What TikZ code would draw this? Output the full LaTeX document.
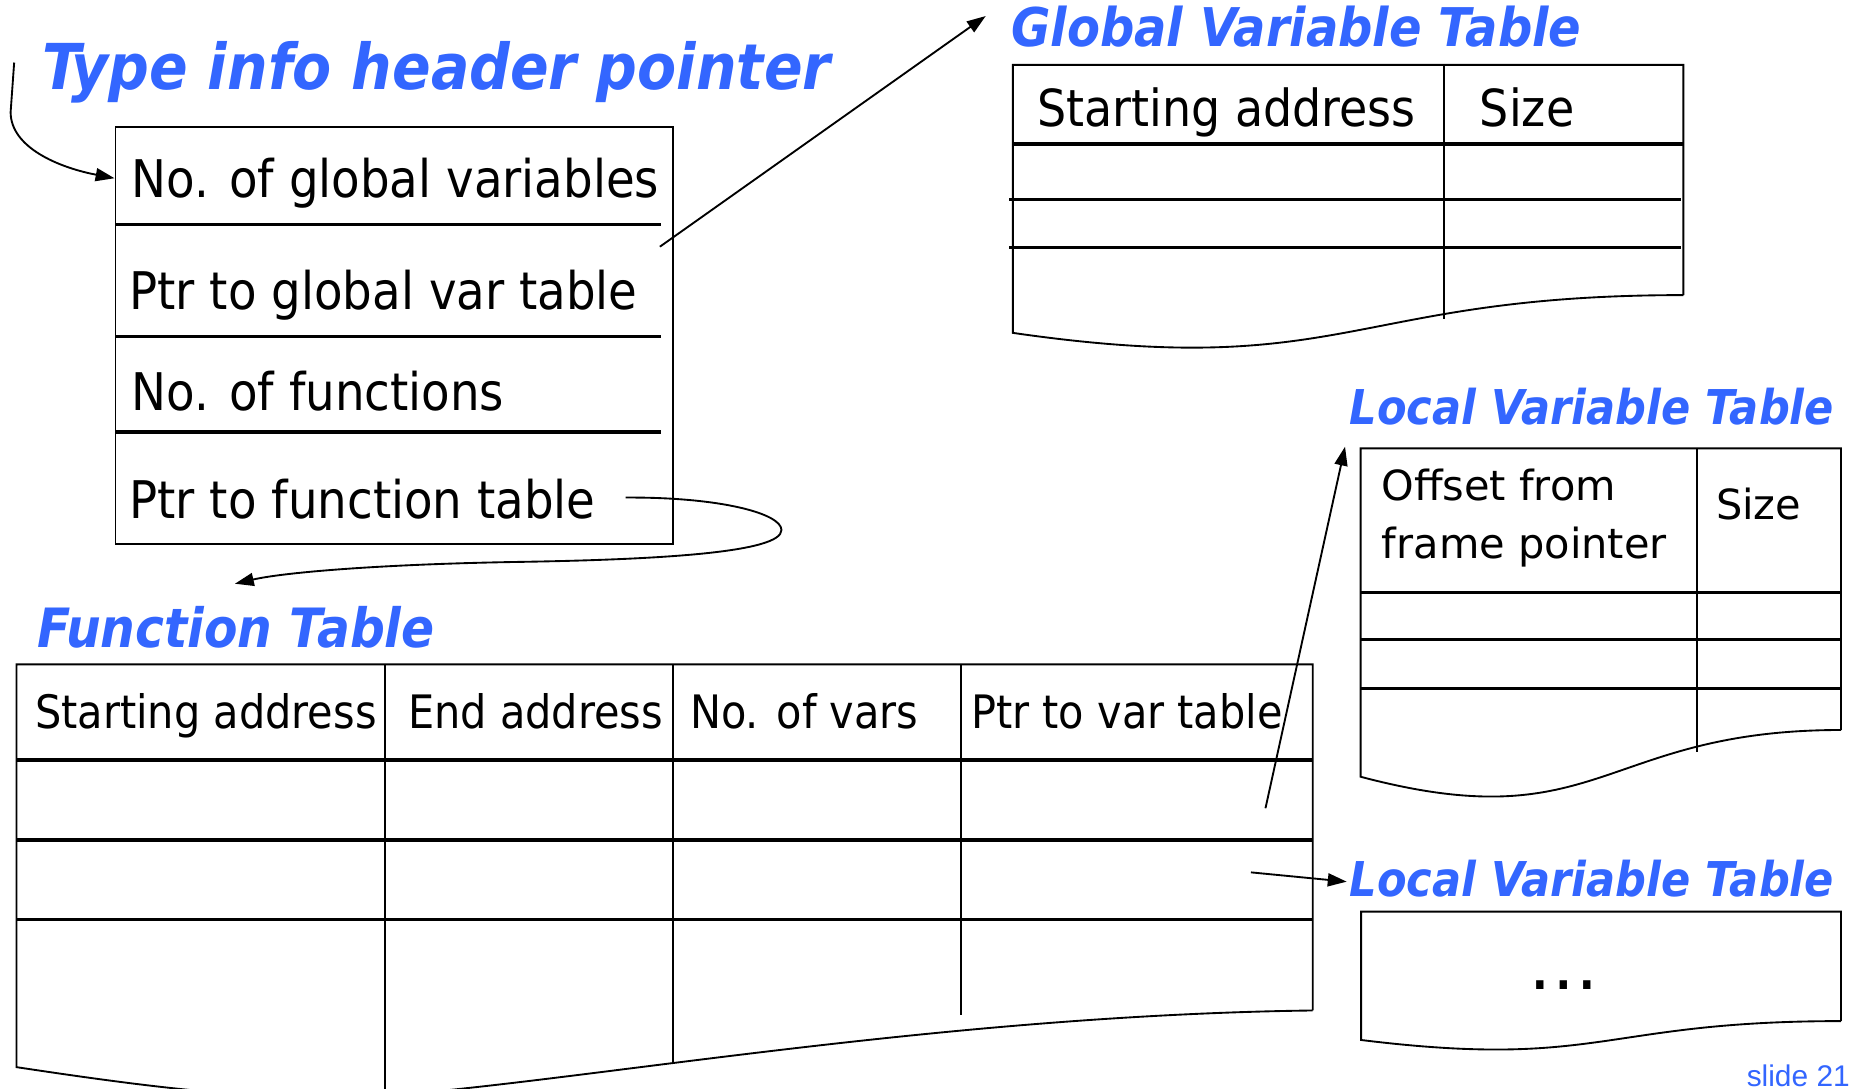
\documentclass[tikz,border=0pt]{standalone}
\usepackage{fontspec}
\usetikzlibrary{arrows.meta}
\setmainfont{DejaVu Sans}
\newfontfamily\tahomalike[FakeStretch=0.9]{DejaVu Sans}
\newfontfamily\verdanalike{DejaVu Sans}
\newfontfamily\titlefont[FakeStretch=0.9]{DejaVu Sans}
\newfontfamily\slidefont{Liberation Sans}
\definecolor{ttlblue}{RGB}{51,102,255}
\newcommand\setsz[1]{\fontsize{#1}{#1}\selectfont}
\tikzset{
  thinln/.style={line width=0.45pt},
  thickln/.style={line width=0.75pt},
  ptr/.style={line width=0.45pt, -{Triangle[length=0.16cm,width=0.11cm]}},
  headline/.style={anchor=base west, inner sep=0pt, text=ttlblue,
    font=\titlefont\bfseries\itshape\setsz{#1}},
  celltext/.style={anchor=base west, inner sep=0pt, font=\tahomalike\setsz{#1}},
  lvtext/.style={anchor=base west, inner sep=0pt, font=\verdanalike\setsz{10pt}},
}
\begin{document}
\begin{tikzpicture}[x=0.01cm, y=-0.01cm]
\useasboundingbox (0,0) rectangle (1568,922);

% ---------- type info header ----------
\node[headline=15.25pt] (tihdr) at (35,75.8) {Type info header pointer};
\node[draw, thinln, minimum width=4.72cm, minimum height=3.53cm, inner sep=0pt]
  (hdr) at (334,284.5) {};
\draw[thickln] (98,190) -- (560,190);
\draw[thickln] (98,285) -- (560,285);
\draw[thickln] (98,366) -- (560,366);
\node[celltext=12.5pt] (ngv) at (111,167.6) {No. of global variables};
\node[celltext=12.5pt] (pgv) at (109,262.6) {Ptr to global var table};
\node[celltext=12.5pt] (nfn) at (111,347.5) {No. of functions};
\node[celltext=12.5pt] (pft) at (109,439.3) {Ptr to function table};

% ---------- global variable table ----------
\node[headline=12.85pt] (gvttl) at (856,39) {Global Variable Table};
\draw[thinln] (1426,250) -- (1426,55) -- (858,55) -- (858,282)
  .. controls (1142,323) and (1142,250) .. (1426,250);
\draw[thickln] (858,122) -- (1426,122);
\draw[thickln] (855,169) -- (1424,169);
\draw[thickln] (855,210) -- (1424,210);
\draw[thinln] (1223,55) -- (1223,270);
\node[celltext=12.3pt] (gsa) at (878,107) {Starting address};
\node[celltext=12.3pt] (gsz) at (1253,107) {Size};

% ---------- local variable table (detailed) ----------
\node[headline=11.55pt] (lvttl1) at (1142.5,360) {Local Variable Table};
\draw[thinln] (1559.5,618.4) -- (1559.5,379.8) -- (1152.6,379.8) -- (1152.6,658)
  .. controls (1356,712) and (1356,618.4) .. (1559.5,618.4);
\draw[thinln] (1437.3,379.8) -- (1437.3,636.7);
\draw[thickln] (1152.6,501.8) -- (1559.5,501.8);
\draw[thickln] (1152.6,542) -- (1559.5,542);
\draw[thickln] (1152.6,583) -- (1559.5,583);
\node[lvtext] (lofs1) at (1169.5,424) {Offset from};
\node[lvtext] (lofs2) at (1170,473) {frame pointer};
\node[lvtext] (lsz) at (1453,440.5) {Size};

% ---------- local variable table (collapsed) ----------
\node[headline=11.55pt] (lvttl2) at (1142.5,759.6) {Local Variable Table};
\draw[thinln] (1559.5,865) -- (1559.5,772.3) -- (1153,772.3) -- (1153,881)
  .. controls (1356,906) and (1356,865) .. (1559.5,865);
\node[anchor=base, inner sep=0pt, font=\verdanalike\setsz{17pt}] (ldots) at (1324.5,838) {…};

% ---------- function table ----------
\node[headline=13.05pt] (fnttl) at (31,548.6) {Function Table};
\draw[thinln] (1112,856) -- (1112,562.8) -- (14,562.8) -- (14,904)
  .. controls (120,920) and (230,935) .. (330,928)
  .. controls (500,915) and (800,860) .. (1112,856);
\draw[thickln] (14,643.8) -- (1112,643.8);
\draw[thickln] (14,711.6) -- (1112,711.6);
\draw[thickln] (14,779.3) -- (1112,779.3);
\draw[thinln] (326,562.8) -- (326,930);
\draw[thinln] (570,562.8) -- (570,900.7);
\draw[thinln] (814,562.8) -- (814,860);
\node[celltext=11.1pt] (fsa) at (29,617) {Starting address};
\node[celltext=11.1pt] (fea) at (345,617) {End address};
\node[celltext=11.1pt] (fnv) at (584,617) {No. of vars};
\node[celltext=11.1pt] (fpv) at (822,617) {Ptr to var table};

% ---------- pointers ----------
\coordinate (tip-src) at (12,53);
\coordinate (tip-bend) at (9,95);
\coordinate (hdr-in) at (97,151);
\draw[ptr] (tip-src) -- (tip-bend) .. controls (9,125) and (50,142) .. (hdr-in);

\coordinate (gv-src) at (559,209);
\coordinate (gv-dst) at (835,13.6);
\draw[ptr] (gv-src) -- (gv-dst);

\coordinate (ft-src) at (530,421.5);
\coordinate (ft-turn) at (662,449);
\coordinate (ft-dst) at (199,494.5);
\draw[ptr] (ft-src) .. controls (610,421) and (662,435) .. (ft-turn)
  .. controls (662,468) and (560,474) .. (440,476)
  .. controls (320,478) and (240,485) .. (ft-dst);

\coordinate (lv1-src) at (1072,684.7);
\coordinate (lv1-dst) at (1139.4,378.4);
\draw[ptr] (lv1-src) -- (lv1-dst);

\coordinate (lv2-src) at (1059.7,739);
\coordinate (lv2-dst) at (1140.8,746.9);
\draw[ptr] (lv2-src) -- (lv2-dst);

% ---------- slide number ----------
\node[anchor=base west, inner sep=0pt, text=ttlblue, font=\slidefont\setsz{7.2pt}]
  (slideno) at (1479,920.5) {slide 21};
\end{tikzpicture}
\end{document}
